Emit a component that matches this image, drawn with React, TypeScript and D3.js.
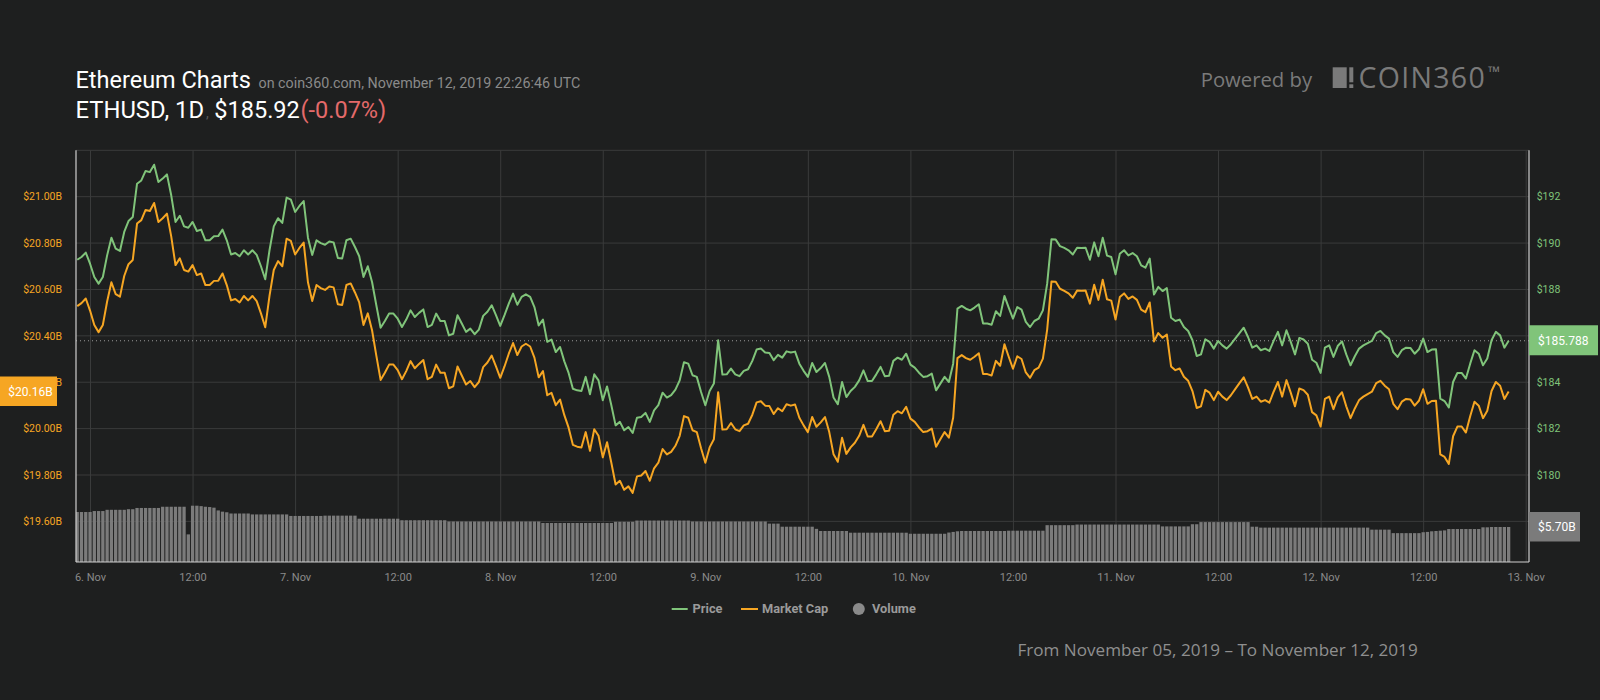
import React from "react";
import * as d3 from "d3";

// ---------- data ----------
const START = Date.UTC(2019, 10, 5, 22, 26, 46); // first sample (UTC)
const STEP_MS = 30 * 60 * 1000; // 30-minute samples

const price: number[] = [
  189.28, 189.40, 189.59, 189.11, 188.54, 188.25, 188.54, 189.47, 190.23, 189.76,
  189.66, 190.48, 190.95, 191.12, 192.56, 192.70, 193.11, 193.06, 193.38, 192.63,
  192.78, 192.96, 192.06, 190.91, 191.18, 190.72, 190.66, 190.91, 190.52, 190.58,
  190.12, 190.12, 190.29, 190.30, 190.58, 190.12, 189.51, 189.57, 189.43, 189.69,
  189.51, 189.69, 189.49, 189.00, 188.44, 189.69, 190.72, 191.07, 190.87, 191.96,
  191.87, 191.34, 191.60, 191.81, 190.23, 189.49, 190.12, 190.00, 189.93, 190.07,
  190.03, 189.36, 189.33, 190.12, 190.19, 189.83, 189.43, 188.54, 189.00, 188.32,
  187.32, 186.35, 186.64, 186.96, 186.96, 186.74, 186.38, 186.70, 187.10, 186.81,
  186.99, 187.14, 186.38, 186.47, 186.96, 186.64, 186.64, 186.02, 186.09, 186.89,
  186.53, 186.17, 186.31, 186.07, 186.27, 186.86, 187.04, 187.32, 186.89, 186.43,
  186.89, 187.39, 187.82, 187.34, 187.68, 187.79, 187.68, 187.24, 186.45, 186.70,
  185.74, 185.84, 185.30, 185.52, 184.90, 184.40, 183.72, 183.65, 183.62, 184.23,
  183.48, 184.34, 184.08, 183.22, 183.82, 183.01, 182.14, 182.29, 181.93, 182.07,
  181.81, 182.47, 182.50, 182.68, 182.29, 182.79, 183.01, 183.55, 183.34, 183.44,
  183.68, 184.08, 184.86, 184.80, 184.30, 184.23, 183.58, 183.01, 183.62, 183.94,
  185.81, 184.33, 184.34, 184.59, 184.34, 184.26, 184.49, 184.56, 184.92, 185.41,
  185.45, 185.28, 185.26, 184.95, 185.18, 185.06, 185.33, 185.28, 185.32, 184.80,
  184.49, 184.23, 184.83, 184.44, 184.61, 184.83, 184.23, 183.34, 183.05, 184.01,
  183.36, 183.62, 183.80, 184.08, 184.51, 184.05, 184.05, 184.34, 184.66, 184.26,
  184.28, 184.92, 185.06, 184.97, 185.23, 184.76, 184.63, 184.41, 184.23, 184.26,
  184.37, 183.65, 183.94, 184.23, 184.01, 184.80, 187.17, 187.29, 187.17, 187.10,
  187.22, 187.36, 186.53, 186.53, 186.48, 187.06, 186.86, 187.72, 187.22, 186.74,
  187.24, 187.13, 186.60, 186.38, 186.64, 186.74, 187.10, 188.25, 190.16, 190.15,
  189.87, 189.79, 189.69, 189.51, 189.80, 189.79, 189.80, 189.28, 190.03, 189.43,
  190.23, 189.46, 189.40, 188.65, 189.54, 189.69, 189.47, 189.57, 189.43, 189.04,
  188.94, 189.33, 187.78, 188.11, 187.93, 188.06, 186.78, 186.64, 186.70, 186.38,
  186.21, 185.81, 185.13, 185.20, 185.85, 185.74, 185.45, 185.78, 185.59, 185.45,
  185.64, 185.88, 186.12, 186.35, 185.95, 185.49, 185.59, 185.38, 185.45, 185.35,
  185.78, 186.17, 185.59, 186.24, 185.74, 185.20, 185.91, 185.84, 185.66, 184.97,
  184.84, 184.40, 185.49, 185.59, 185.09, 185.56, 185.76, 185.20, 184.73, 185.12,
  185.45, 185.59, 185.69, 185.78, 186.12, 186.21, 186.02, 185.88, 185.30, 185.09,
  185.38, 185.49, 185.48, 185.23, 185.42, 185.88, 185.30, 185.41, 185.42, 183.29,
  183.19, 182.91, 184.01, 184.40, 184.40, 184.16, 184.80, 185.38, 185.23, 184.73,
  185.02, 185.81, 186.17, 186.02, 185.49, 185.79,
];

// market cap, billions USD
const marketCap: number[] = [
  20.528, 20.541, 20.561, 20.509, 20.447, 20.416, 20.447, 20.548, 20.631, 20.580,
  20.569, 20.658, 20.709, 20.727, 20.884, 20.899, 20.943, 20.938, 20.973, 20.891,
  20.907, 20.927, 20.829, 20.705, 20.734, 20.684, 20.677, 20.705, 20.662, 20.669,
  20.619, 20.619, 20.637, 20.638, 20.669, 20.619, 20.553, 20.559, 20.544, 20.572,
  20.553, 20.572, 20.550, 20.497, 20.437, 20.572, 20.684, 20.722, 20.700, 20.819,
  20.809, 20.751, 20.779, 20.802, 20.631, 20.550, 20.619, 20.606, 20.598, 20.613,
  20.609, 20.536, 20.533, 20.619, 20.626, 20.587, 20.544, 20.447, 20.497, 20.424,
  20.315, 20.210, 20.241, 20.276, 20.276, 20.252, 20.213, 20.248, 20.291, 20.260,
  20.279, 20.296, 20.213, 20.223, 20.276, 20.241, 20.241, 20.174, 20.182, 20.268,
  20.229, 20.190, 20.205, 20.179, 20.201, 20.265, 20.285, 20.315, 20.268, 20.219,
  20.268, 20.323, 20.369, 20.317, 20.354, 20.366, 20.354, 20.306, 20.221, 20.248,
  20.144, 20.154, 20.101, 20.125, 20.058, 20.004, 19.930, 19.922, 19.919, 19.985,
  19.904, 19.997, 19.969, 19.876, 19.941, 19.853, 19.759, 19.775, 19.736, 19.751,
  19.723, 19.794, 19.798, 19.817, 19.775, 19.829, 19.853, 19.912, 19.889, 19.900,
  19.926, 19.969, 20.054, 20.047, 19.993, 19.985, 19.915, 19.853, 19.919, 19.954,
  20.157, 19.996, 19.997, 20.024, 19.997, 19.989, 20.014, 20.021, 20.060, 20.113,
  20.118, 20.099, 20.097, 20.063, 20.088, 20.075, 20.105, 20.099, 20.104, 20.047,
  20.014, 19.985, 20.050, 20.008, 20.027, 20.050, 19.985, 19.889, 19.857, 19.961,
  19.891, 19.919, 19.939, 19.969, 20.016, 19.966, 19.966, 19.997, 20.032, 19.989,
  19.991, 20.060, 20.075, 20.066, 20.094, 20.043, 20.029, 20.005, 19.985, 19.989,
  20.000, 19.922, 19.954, 19.985, 19.961, 20.047, 20.304, 20.317, 20.304, 20.297,
  20.310, 20.325, 20.235, 20.235, 20.229, 20.292, 20.271, 20.364, 20.310, 20.258,
  20.312, 20.300, 20.242, 20.219, 20.252, 20.263, 20.302, 20.427, 20.634, 20.633,
  20.603, 20.594, 20.583, 20.564, 20.595, 20.594, 20.595, 20.539, 20.620, 20.555,
  20.642, 20.558, 20.552, 20.470, 20.567, 20.583, 20.559, 20.570, 20.555, 20.513,
  20.502, 20.544, 20.376, 20.412, 20.392, 20.406, 20.268, 20.252, 20.259, 20.224,
  20.206, 20.162, 20.089, 20.096, 20.167, 20.155, 20.123, 20.159, 20.138, 20.123,
  20.144, 20.170, 20.196, 20.221, 20.178, 20.128, 20.138, 20.116, 20.123, 20.112,
  20.159, 20.201, 20.138, 20.209, 20.155, 20.096, 20.173, 20.166, 20.146, 20.071,
  20.057, 20.009, 20.128, 20.138, 20.084, 20.135, 20.157, 20.096, 20.045, 20.087,
  20.123, 20.138, 20.149, 20.159, 20.196, 20.206, 20.185, 20.170, 20.107, 20.084,
  20.116, 20.128, 20.126, 20.099, 20.120, 20.170, 20.107, 20.119, 20.120, 19.889,
  19.878, 19.848, 19.967, 20.009, 20.009, 19.983, 20.053, 20.116, 20.099, 20.045,
  20.077, 20.162, 20.201, 20.185, 20.128, 20.160,
];

// 24h volume, billions USD
const volume: number[] = [
  8.14, 8.14, 8.14, 8.14, 8.3, 8.3, 8.3, 8.5, 8.5, 8.5,
  8.5, 8.5, 8.6, 8.6, 8.8, 8.8, 8.8, 8.8, 8.8, 8.8,
  9.0, 9.0, 9.0, 9.0, 9.0, 9.0, 4.5, 9.17, 9.17, 9.1,
  9.0, 8.95, 8.85, 8.4, 8.2, 8.1, 7.9, 7.9, 7.9, 7.9,
  7.9, 7.75, 7.75, 7.75, 7.75, 7.75, 7.75, 7.75, 7.75, 7.75,
  7.5, 7.5, 7.5, 7.5, 7.5, 7.5, 7.5, 7.5, 7.55, 7.55,
  7.55, 7.55, 7.55, 7.55, 7.55, 7.55, 7.05, 7.05, 7.05, 7.05,
  7.05, 7.05, 7.05, 7.05, 7.05, 7.05, 6.8, 6.8, 6.8, 6.8,
  6.8, 6.8, 6.8, 6.8, 6.8, 6.8, 6.8, 6.6, 6.6, 6.6,
  6.6, 6.6, 6.6, 6.6, 6.6, 6.6, 6.6, 6.6, 6.6, 6.6,
  6.6, 6.6, 6.6, 6.6, 6.6, 6.6, 6.6, 6.6, 6.6, 6.35,
  6.35, 6.35, 6.35, 6.35, 6.35, 6.35, 6.35, 6.35, 6.35, 6.35,
  6.35, 6.35, 6.35, 6.35, 6.35, 6.35, 6.55, 6.55, 6.55, 6.55,
  6.55, 6.75, 6.75, 6.75, 6.75, 6.75, 6.75, 6.75, 6.75, 6.75,
  6.75, 6.75, 6.75, 6.75, 6.6, 6.6, 6.6, 6.6, 6.6, 6.6,
  6.6, 6.6, 6.6, 6.6, 6.6, 6.6, 6.6, 6.6, 6.6, 6.6,
  6.6, 6.6, 6.25, 6.25, 6.25, 5.75, 5.75, 5.75, 5.75, 5.75,
  5.75, 5.75, 5.75, 5.4, 5.05, 5.05, 5.05, 5.05, 5.05, 5.05,
  5.05, 4.77, 4.77, 4.77, 4.77, 4.77, 4.77, 4.77, 4.77, 4.77,
  4.77, 4.77, 4.77, 4.77, 4.77, 4.6, 4.6, 4.6, 4.6, 4.6,
  4.6, 4.6, 4.6, 4.6, 4.8, 4.9, 5.0, 5.05, 5.05, 5.05,
  5.05, 5.05, 5.05, 5.05, 5.05, 5.05, 5.05, 5.05, 5.1, 5.1,
  5.1, 5.1, 5.1, 5.1, 5.1, 5.1, 5.1, 6.0, 6.0, 6.0,
  6.0, 6.0, 6.0, 6.0, 6.1, 6.1, 6.1, 6.1, 6.1, 6.1,
  6.1, 6.1, 6.1, 6.1, 6.1, 6.1, 6.1, 6.1, 6.1, 6.1,
  6.1, 6.1, 6.1, 6.1, 5.8, 5.8, 5.8, 5.8, 5.8, 5.8,
  5.8, 6.15, 6.15, 6.5, 6.5, 6.5, 6.5, 6.5, 6.5, 6.5,
  6.5, 6.5, 6.5, 6.5, 6.5, 5.75, 5.75, 5.6, 5.6, 5.6,
  5.6, 5.6, 5.6, 5.6, 5.6, 5.6, 5.6, 5.6, 5.6, 5.6,
  5.6, 5.6, 5.6, 5.6, 5.6, 5.6, 5.6, 5.6, 5.6, 5.6,
  5.6, 5.6, 5.6, 5.27, 5.27, 5.27, 5.27, 5.27, 4.7, 4.7,
  4.7, 4.7, 4.7, 4.7, 4.7, 4.85, 4.9, 5.0, 5.05, 5.1,
  5.15, 5.37, 5.37, 5.37, 5.37, 5.37, 5.37, 5.37, 5.37, 5.65,
  5.65, 5.7, 5.7, 5.7, 5.7, 5.7,
];

// $186 sits fully under the current-price badge in the reference, so it is not listed
const priceTicks = [180, 182, 184, 188, 190, 192];
const capTicks = [19.6, 19.8, 20.0, 20.2, 20.4, 20.6, 20.8, 21.0];
const gridCaps = [19.6, 19.8, 20.0, 20.2, 20.4, 20.6, 20.8, 21.0, 21.2];

const currentPrice = 185.788;
const currentPriceLabel = "$185.788";
const currentCap = 20.16;
const currentCapLabel = "$20.16B";
const currentVolume = 5.7;
const currentVolumeLabel = "$5.70B";

const titleText = "Ethereum Charts";
const subtitleText = "on coin360.com, November 12, 2019 22:26:46 UTC";
const pairText = "ETHUSD, 1D";
const priceText = "$185.92";
const changeText = "(-0.07%)";
const footerText = "From November 05, 2019 \u2013 To November 12, 2019";
const legendItems = ["Price", "Market Cap", "Volume"];

// ---------- styling ----------
const BG = "#1e1f1f";
const GRID = "#3a3b3b";
const GREEN = "#80c47a";
const ORANGE = "#f6a623";
const VOL = "#7b7b7b";
const FONT = "Roboto, 'Open Sans', sans-serif";

const PL = 76,
  PR = 1529,
  PT = 150.3,
  PB = 562;

export default function App() {
  const times = price.map((_, i) => new Date(START + i * STEP_MS));

  const x = d3
    .scaleUtc()
    .domain([new Date(Date.UTC(2019, 10, 6)), new Date(Date.UTC(2019, 10, 13))])
    .range([90.5, 1526.2]);
  const yPrice = d3.scaleLinear().domain([180, 194]).range([475, PT]);
  const yCap = d3.scaleLinear().domain([19.8, 21.2]).range([475, PT]);
  const yVol = d3.scaleLinear().domain([0, 67.1]).range([PB, 150]);

  const priceLine = d3
    .line<number>()
    .x((_, i) => x(times[i]))
    .y((d) => yPrice(d));
  const capLine = d3
    .line<number>()
    .x((_, i) => x(times[i]))
    .y((d) => yCap(d));

  const xTicks = x.ticks(d3.utcHour.every(12) as any);
  const fmtDay = d3.utcFormat("%-d. %b");
  const fmtHour = d3.utcFormat("%H:%M");
  const fmtTick = (d: Date) => (d.getUTCHours() === 0 ? fmtDay(d) : fmtHour(d));

  const barW = 3.3;
  const yCur = yPrice(currentPrice);
  const yCurCap = yCap(currentCap);
  const yCurVol = yVol(currentVolume);
  const capBoxW = 57;

  return (
    <svg
      width={1600}
      height={700}
      style={{ position: "absolute", left: 0, top: 0, display: "block" }}
      fontFamily={FONT}
    >
      <defs>
        <clipPath id="plotClip">
          <rect x={PL} y={PT} width={PR - PL} height={PB - PT} />
        </clipPath>
        <clipPath id="capLabelClip">
          <rect x={capBoxW} y={0} width={PL - capBoxW} height={700} />
        </clipPath>
      </defs>
      <rect x={0} y={0} width={1600} height={700} fill={BG} />

      {/* header */}
      <text x={75.5} y={87.7} fill="#ffffff" fontSize={23.5}>
        {titleText}
      </text>
      <text x={258.5} y={87.7} fill="#8a8a8a" fontSize={14.3}>
        {subtitleText}
      </text>
      <text x={75.5} y={118} fill="#ffffff" fontSize={23.8}>
        {pairText}
      </text>
      <text x={206} y={118} fill="#5a5a5a" fontSize={14}>
        ,
      </text>
      <text x={214.3} y={118} fill="#ffffff" fontSize={23.5}>
        {priceText}
      </text>
      <text x={300.5} y={118} fill="#e46a6a" fontSize={23.5}>
        {changeText}
      </text>

      {/* powered by */}
      <text x={1200.7} y={87.3} fill="#7a7a7a" fontSize={20.3} fontFamily="'Open Sans', sans-serif">
        Powered by
      </text>
      <rect x={1332.7} y={67.3} width={14} height={20.7} fill="#7a7a7a" />
      <rect x={1349.3} y={67.3} width={4} height={15} fill="#7a7a7a" />
      <rect x={1349.3} y={84.3} width={4} height={3.7} fill="#7a7a7a" />
      <text x={1358.5} y={88} fill="#7a7a7a" fontSize={28.5} fontFamily="'Open Sans', sans-serif" letterSpacing={1.3}>
        COIN360
      </text>
      <text x={1488} y={78} fill="#7a7a7a" fontSize={16} fontFamily="'Open Sans', sans-serif">
        {"\u2122"}
      </text>

      {/* grid */}
      {gridCaps.map((v) => (
        <line key={"h" + v} x1={PL} x2={PR} y1={yCap(v)} y2={yCap(v)} stroke={GRID} strokeWidth={1} />
      ))}
      {xTicks.map((t) => (
        <line key={"v" + t.getTime()} x1={x(t)} x2={x(t)} y1={PT} y2={PB} stroke={GRID} strokeWidth={1} />
      ))}

      {/* volume bars */}
      <g clipPath="url(#plotClip)">
        {volume.map((v, i) => (
          <rect
            key={"b" + i}
            x={x(times[i]) - barW / 2}
            y={yVol(v)}
            width={barW}
            height={PB - yVol(v)}
            fill={VOL}
          />
        ))}
      </g>

      {/* current price dotted line */}
      <line x1={PL} x2={PR} y1={yCur} y2={yCur} stroke="#9a9a9a" strokeWidth={1} strokeDasharray="1,3" />

      {/* lines */}
      <g clipPath="url(#plotClip)">
        <path d={capLine(marketCap) || ""} fill="none" stroke={ORANGE} strokeWidth={2} strokeLinejoin="round" />
        <path d={priceLine(price) || ""} fill="none" stroke={GREEN} strokeWidth={2} strokeLinejoin="round" />
      </g>

      {/* frame */}
      <line x1={PL} x2={PL} y1={PT} y2={PB} stroke="#cfcfcf" strokeWidth={1.2} />
      <line x1={PR} x2={PR} y1={PT} y2={PB} stroke="#cfcfcf" strokeWidth={1.2} />
      <line x1={PL} x2={PR} y1={PB} y2={PB} stroke="#cfcfcf" strokeWidth={1.2} />

      {/* left axis (market cap) */}
      {capTicks.map((v) => {
        const hidden = Math.abs(yCap(v) - yCurCap) < 15;
        return (
          <text
            key={"lc" + v}
            x={62}
            y={yCap(v) + 3.8}
            fill={ORANGE}
            fontSize={10.5}
            textAnchor="end"
            clipPath={hidden ? "url(#capLabelClip)" : undefined}
          >
            {`$${v.toFixed(2)}B`}
          </text>
        );
      })}
      {/* right axis (price) */}
      {priceTicks.map((v) => (
        <text key={"rp" + v} x={1536.7} y={yPrice(v) + 3.8} fill={GREEN} fontSize={10.5}>
          {`$${v}`}
        </text>
      ))}

      {/* x axis labels */}
      {xTicks.map((t) => (
        <text key={"xl" + t.getTime()} x={x(t)} y={581} fill="#8a8a8a" fontSize={11} textAnchor="middle">
          {fmtTick(t)}
        </text>
      ))}

      {/* current value labels */}
      <rect x={0} y={yCurCap - 15} width={capBoxW} height={29.5} fill={ORANGE} />
      <text x={8.3} y={yCurCap + 4.3} fill="#ffffff" fontSize={12}>
        {currentCapLabel}
      </text>
      <rect x={PR} y={yCur - 15.5} width={69} height={30} fill={GREEN} />
      <text x={1538} y={yCur + 4} fill="#ffffff" fontSize={12}>
        {currentPriceLabel}
      </text>
      <rect x={PR} y={yCurVol - 15} width={51} height={29.5} fill={VOL} />
      <text x={1538} y={yCurVol + 4.3} fill="#ffffff" fontSize={12}>
        {currentVolumeLabel}
      </text>

      {/* legend */}
      <line x1={671.7} x2={687.7} y1={609} y2={609} stroke={GREEN} strokeWidth={2} />
      <text x={692.6} y={613.2} fill="#9a9a9a" fontSize={12.8} fontWeight={700}>
        {legendItems[0]}
      </text>
      <line x1={741} x2={758} y1={609} y2={609} stroke={ORANGE} strokeWidth={2} />
      <text x={762} y={613.2} fill="#9a9a9a" fontSize={12.8} fontWeight={700}>
        {legendItems[1]}
      </text>
      <circle cx={858.8} cy={609} r={6} fill="#8a8a8a" />
      <text x={872} y={613.2} fill="#9a9a9a" fontSize={12.8} fontWeight={700}>
        {legendItems[2]}
      </text>

      {/* footer */}
      <text x={1217.6} y={656} fill="#8f8f8f" fontSize={17.1} textAnchor="middle" fontFamily="'Open Sans', sans-serif">
        {footerText}
      </text>
    </svg>
  );
}
